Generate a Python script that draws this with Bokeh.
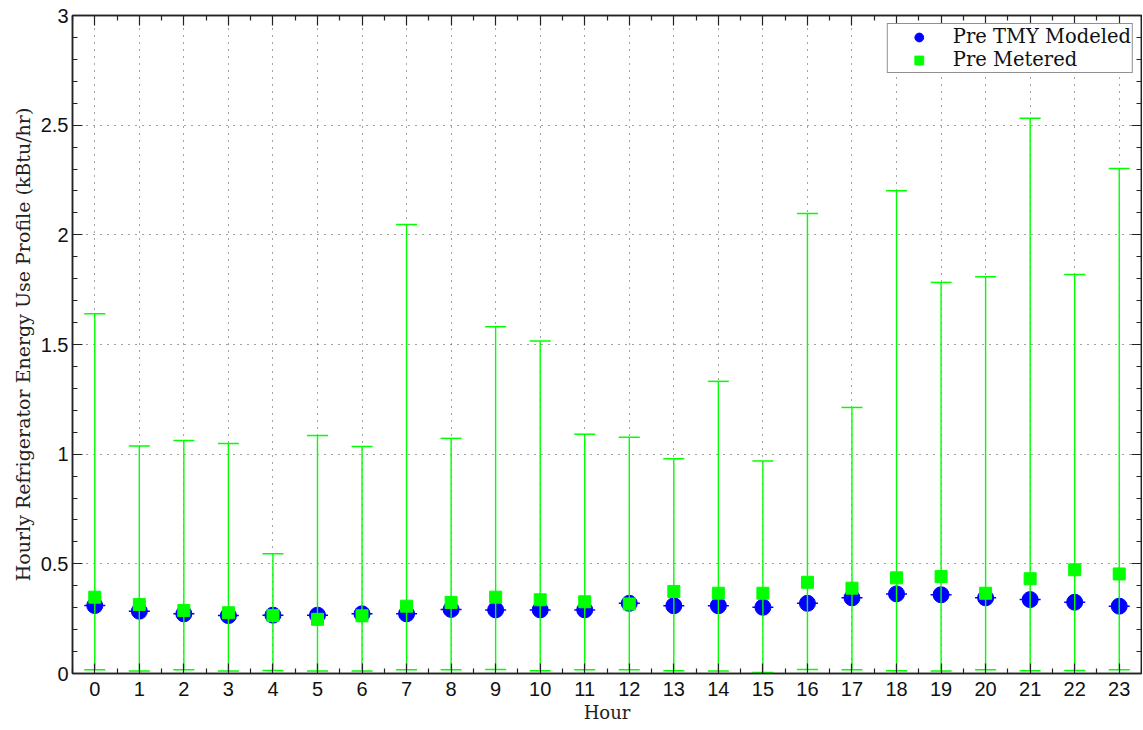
from bokeh.plotting import figure
from bokeh.models import (ColumnDataSource, Range1d, FixedTicker, LinearAxis,
                          NumeralTickFormatter, Legend, LegendItem)
from bokeh.embed import file_html
from bokeh.resources import INLINE

# ---- data ----
hours = list(range(24))
modeled = [0.310, 0.284, 0.272, 0.264, 0.266, 0.266, 0.272, 0.272, 0.292, 0.290,
           0.290, 0.290, 0.320, 0.309, 0.309, 0.302, 0.320, 0.345, 0.363, 0.359,
           0.345, 0.337, 0.325, 0.307]
metered = [0.348, 0.315, 0.287, 0.277, 0.264, 0.247, 0.263, 0.307, 0.324, 0.348,
           0.336, 0.327, 0.317, 0.374, 0.366, 0.366, 0.416, 0.389, 0.436, 0.442,
           0.366, 0.432, 0.473, 0.454]
metered_max = [1.640, 1.037, 1.062, 1.049, 0.546, 1.085, 1.035, 2.047, 1.072, 1.581,
               1.516, 1.091, 1.077, 0.979, 1.332, 0.969, 2.097, 1.213, 2.201, 1.783,
               1.809, 2.532, 1.819, 2.302]
metered_min = [0.017, 0.011, 0.017, 0.011, 0.014, 0.011, 0.011, 0.017, 0.017, 0.018,
               0.012, 0.017, 0.017, 0.012, 0.011, 0.005, 0.018, 0.017, 0.012, 0.011,
               0.017, 0.012, 0.014, 0.017]
y_ticks = [0, 0.5, 1, 1.5, 2, 2.5, 3]

src = ColumnDataSource(dict(hour=hours, modeled=modeled, metered=metered,
                            mmax=metered_max, mmin=metered_min))

GREEN = "#00ff00"
BLUE = "#0000ff"
SERIF = "DejaVu Serif"
SANS = "Liberation Sans"

p = figure(width=1142, height=729, output_backend="svg", toolbar_location=None,
           x_range=Range1d(-0.5, 23.5), y_range=Range1d(0, 3),
           min_border_left=72, min_border_right=1, min_border_top=15, min_border_bottom=56)
p.background_fill_color = "white"
p.border_fill_color = "white"
p.outline_line_color = "#222222"
p.outline_line_width = 1.5

xt = FixedTicker(ticks=hours, minor_ticks=[h + 0.5 for h in range(-1, 24)])
yt = FixedTicker(ticks=y_ticks, minor_ticks=[i / 10 for i in range(0, 31)])

def style_axis(ax, labels=True):
    ax.axis_line_color = "#222222"
    ax.axis_line_width = 1.5
    ax.major_tick_line_color = "#222222"
    ax.minor_tick_line_color = "#222222"
    ax.major_tick_line_width = 1.2
    ax.minor_tick_line_width = 1.2
    ax.major_tick_in = 10
    ax.major_tick_out = 0
    ax.minor_tick_in = 5
    ax.minor_tick_out = 0
    if labels:
        ax.major_label_text_font = SANS
        ax.major_label_text_font_size = "20px"
        ax.major_label_text_color = "#111111"
        ax.axis_label_text_font = SERIF
        ax.axis_label_text_font_style = "normal"
        ax.axis_label_text_color = "#222222"
    else:
        ax.major_label_text_font_size = "0px"
        ax.major_label_standoff = 0

xa = p.xaxis[0]
xa.ticker = xt
xa.axis_label = "Hour"
style_axis(xa)
xa.axis_label_text_font_size = "18px"
xa.major_label_standoff = 8
xa.axis_label_standoff = 3

ya = p.yaxis[0]
ya.ticker = yt
ya.formatter = NumeralTickFormatter(format="0.[0]")
ya.axis_label = "Hourly Refrigerator Energy Use Profile (kBtu/hr)"
style_axis(ya)
ya.axis_label_text_font_size = "19px"
ya.major_label_standoff = 4
ya.axis_label_standoff = 4

top = LinearAxis(ticker=xt)
style_axis(top, labels=False)
p.add_layout(top, "above")
right = LinearAxis(ticker=yt)
style_axis(right, labels=False)
p.add_layout(right, "right")

p.xgrid.ticker = xt
p.ygrid.ticker = yt
for g in (p.xgrid, p.ygrid):
    g.grid_line_color = "#444444"
    g.grid_line_dash = "1 6"
    g.grid_line_width = 1

# blue caps + circles
p.scatter("hour", "modeled", source=src, marker="dash", size=21,
          line_color=BLUE, line_width=1.5)
r_mod = p.scatter("hour", "modeled", source=src, marker="circle", size=16,
                  fill_color=BLUE, line_color=BLUE)
# green error bars
p.segment(x0="hour", y0="mmin", x1="hour", y1="mmax", source=src,
          line_color=GREEN, line_width=1.4)
p.scatter("hour", "mmax", source=src, marker="dash", size=21,
          line_color=GREEN, line_width=1.5)
p.scatter("hour", "mmin", source=src, marker="dash", size=21,
          line_color=GREEN, line_width=1.5)
r_met = p.scatter("hour", "metered", source=src, marker="square", size=12,
                  fill_color=GREEN, line_color=GREEN)

legend = Legend(items=[LegendItem(label="Pre TMY Modeled", renderers=[r_mod]),
                       LegendItem(label="Pre Metered", renderers=[r_met])],
                location="top_right")
legend.border_line_color = "#222222"
legend.border_line_width = 1.5
legend.background_fill_alpha = 1
legend.label_text_font = SERIF
legend.label_text_font_size = "19.5px"
legend.label_text_color = "#111111"
legend.padding = 1
legend.margin = 8
legend.spacing = 0
legend.glyph_width = 60
legend.glyph_height = 22
legend.label_height = 16
legend.label_standoff = 4
p.add_layout(legend)

open("out.html", "w").write(file_html(p, INLINE))
